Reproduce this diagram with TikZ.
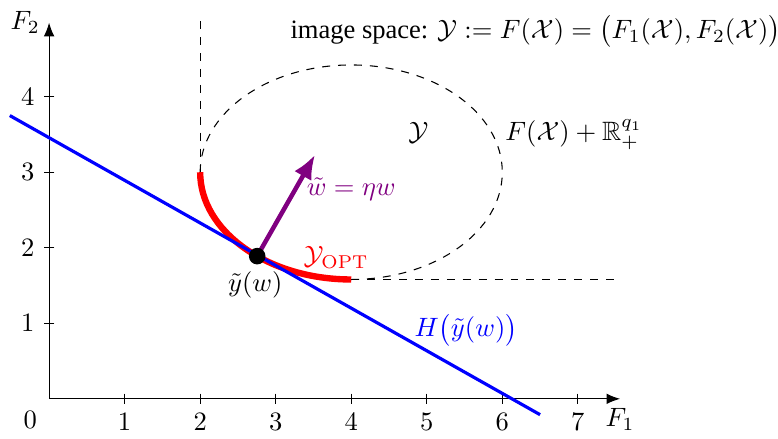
\documentclass[tikz,border=0pt]{standalone}
\usepackage{amsmath,amssymb,amsfonts}
\usepackage[no-math]{fontspec}
\setmainfont{Liberation Serif}
\usepackage{tikz}
\usetikzlibrary{arrows.meta, positioning, calc}
\definecolor{hplane}{RGB}{0, 0, 255}
\definecolor{optset}{RGB}{255, 0, 0}
\definecolor{weight}{RGB}{128, 0, 128}

\begin{document}
\begin{tikzpicture}[
    x=1cm, y=1cm,
    axis/.style={-{Latex[length=1.8mm, width=1.4mm]}, thin},
    tick/.style={thin},
    bound/.style={dashed, thin},
    front/.style={line width=2.4pt, color=optset},
    support/.style={line width=1.2pt, color=hplane},
    normal/.style={-{Latex[length=3.2mm, width=2.6mm]}, line width=1.7pt, color=weight},
    point/.style={circle, fill=black, inner sep=0pt, minimum size=2.2mm}
]
    \useasboundingbox (-0.65,-0.52) rectangle (9.65,5.28);

    % axes
    \coordinate (O) at (0,0);
    \coordinate (xend) at (7.56,0);
    \coordinate (yend) at (0,4.98);
    \draw[axis] (O) -- (xend) node[below] (F1) {$F_1$};
    \draw[axis] (O) -- (yend) node[left] (F2) {$F_2$};
    \node (zero) at (-0.25,-0.28) {$0$};
    \foreach \x in {1,...,7}
        \draw[tick] (\x,0.07) -- (\x,-0.07) node[below] {$\x$};
    \foreach \y in {1,...,4}
        \draw[tick] (0.07,\y) -- (-0.07,\y) node[left] {$\y$};

    % image space boundary
    \coordinate (top) at (2,5);
    \coordinate (left) at (2,3);
    \coordinate (low) at (4,1.58);
    \coordinate (far) at (7.5,1.58);
    \draw[bound] (top) -- (left);
    \draw[bound] (left) arc[start angle=180, end angle=-90, x radius=2, y radius=1.42];
    \draw[bound] (low) -- (far);

    % optimal set, supporting line and normal
    \draw[front] (left) arc[start angle=180, end angle=270, x radius=2, y radius=1.42];
    \coordinate (hstart) at (-0.52,3.75);
    \coordinate (hend) at (6.5,-0.21);
    \draw[support] (hstart) -- (hend);
    \coordinate (ytil) at (2.755,1.889);
    \coordinate (wtip) at (3.52,3.23);
    \draw[normal] (ytil) -- (wtip);
    \node[point] (dot) at (ytil) {};

    % labels
    \node (title) at (6.44,4.86) {image space: $\mathcal{Y} := F(\mathcal{X}) = \bigl(F_1(\mathcal{X}),F_2(\mathcal{X})\bigr)$};
    \node (Yset) at (4.89,3.52) {$\mathcal{Y}$};
    \node (cone) at (6.95,3.5) {$F(\mathcal{X}) + \mathbb{R}^{q_1}_+$};
    \node[text=weight] (wlab) at (4.0,2.77) {$\tilde{w} = \eta w$};
    \node[text=optset] (Yopt) at (3.8,1.87) {$\mathcal{Y}_{\mathrm{OPT}}$};
    \node (ylab) at (2.73,1.51) {$\tilde{y}(w)$};
    \node[text=hplane] (Hlab) at (5.52,0.91) {$H\bigl(\tilde{y}(w)\bigr)$};

\end{tikzpicture}
\end{document}
